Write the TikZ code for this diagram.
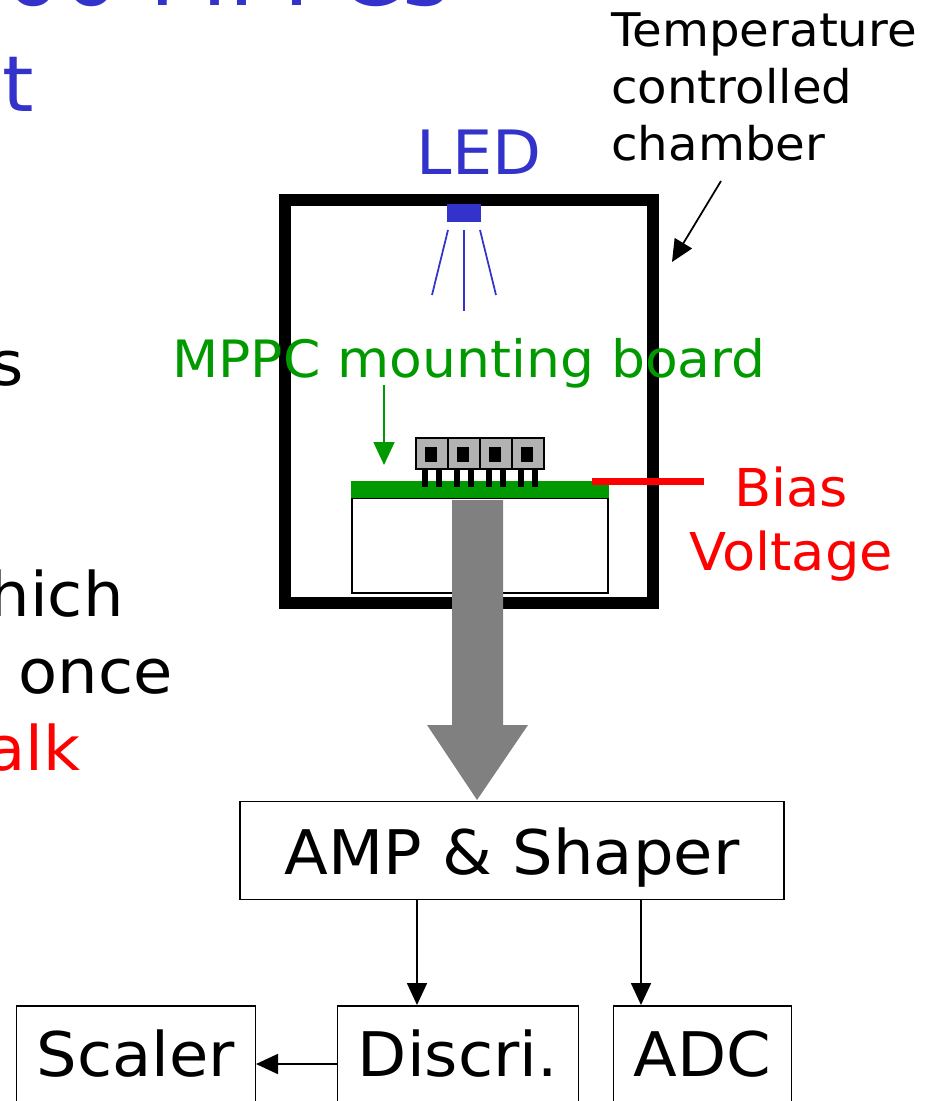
\documentclass[tikz,border=0pt]{standalone}
\usepackage{fontspec}
\setmainfont[FakeStretch=1.04]{DejaVu Sans}
\usetikzlibrary{arrows.meta}
\definecolor{ledblue}{RGB}{51,51,204}
\definecolor{boardgreen}{RGB}{0,153,0}
\definecolor{shaftgray}{RGB}{128,128,128}
\definecolor{chipgray}{RGB}{178,178,178}
\tikzset{
  boxnode/.style={draw=black,line width=0.03cm,inner sep=0pt},
  labeltext/.style={inner sep=0pt,font=\fontsize{35}{40}\selectfont},
  thinarrow/.style={line width=0.035cm,-{Triangle[length=0.44cm,width=0.4cm]}},
  rayline/.style={ledblue,line width=0.035cm}
}
\begin{document}
\begin{tikzpicture}[x=0.02cm,y=-0.02cm]
  \useasboundingbox (0,0) rectangle (943,1101);
  \clip (0,0) rectangle (943,1101);

  % Cropped slide text
  \node [labeltext,anchor=base west,text=ledblue,font=\fontsize{50}{56}\selectfont] (title) at (4,6) {00 MPPCs};
  \node [labeltext,anchor=base west,text=ledblue,font=\fontsize{44}{56}\selectfont] (titleb) at (2,112) {t};
  \node [labeltext,anchor=base east] (bodya) at (24,385) {s};
  \node [labeltext,anchor=base east] (bodyb) at (124,616) {hich};
  \node [labeltext,anchor=base west] (bodyc) at (18,693) {once};
  \node [labeltext,anchor=base east,text=red] (bodyd) at (81,770) {alk};

  % Chamber
  \draw [line width=0.24cm] (285,200) rectangle (652.5,602.5);
  \node [labeltext,anchor=base west,align=left,font=\fontsize{26.4}{32.7}\selectfont] (chamber) at (611,161) {Temperature\\controlled\\chamber};
  \coordinate (chambertail) at (721,181);
  \coordinate (chambertip) at (672,262);
  \draw [thinarrow] (chambertail) -- (chambertip);

  % LED with rays
  \node [labeltext,anchor=base,text=ledblue,font=\fontsize{34.8}{40}\selectfont] (led) at (479,175) {LED};
  \node [fill=ledblue,minimum width=34*0.02cm,minimum height=18*0.02cm,inner sep=0pt] (ledchip) at (464,213) {};
  \draw [rayline] (448,230) -- (432,295);
  \draw [rayline] (464,230) -- (464,311);
  \draw [rayline] (480,230) -- (496,295);

  % Mounting board
  \draw [line width=0.03cm] (352,498) rectangle (608,593);
  \fill [boardgreen] (351,481) rectangle (609,498);
  \foreach \chipx in {416,448,480,512}{
    \draw [line width=0.03cm,fill=chipgray] (\chipx,438) rectangle ++(32,31);
    \fill [black] (\chipx+9,447) rectangle ++(12,15);
    \fill [black] (\chipx+6,469) rectangle ++(6,18);
    \fill [black] (\chipx+20,469) rectangle ++(6,18);
  }
  \node [labeltext,anchor=base,text=boardgreen,font=\fontsize{29.3}{34}\selectfont] (board) at (469,377) {MPPC mounting board};
  \coordinate (boardtail) at (384,385);
  \coordinate (boardtip) at (384,465);
  \draw [boardgreen,line width=0.035cm,-{Triangle[length=0.46cm,width=0.42cm]}] (boardtail) -- (boardtip);

  % Bias line
  \draw [red,line width=0.14cm] (592,481) -- (704,481);
  \node [labeltext,anchor=base,text=red,align=center,font=\fontsize{29.7}{36.4}\selectfont] (bias) at (791,570) {Bias\\Voltage};

  % Thick signal arrow
  \fill [shaftgray] (452,500) -- (503,500) -- (503,725) -- (528,725) -- (477,800) -- (427,725) -- (452,725) -- cycle;

  % Readout boxes
  \node [boxnode,labeltext,minimum width=544*0.02cm,minimum height=98*0.02cm,text height=30pt,text depth=2.6pt] (amp) at (512,850.5) {AMP \& Shaper};
  \node [boxnode,labeltext,minimum width=239*0.02cm,minimum height=98*0.02cm,text height=27pt,text depth=2pt,anchor=north west] (scaler) at (15.5,1005) {Scaler};
  \node [boxnode,labeltext,minimum width=241*0.02cm,minimum height=98*0.02cm,text height=27pt,text depth=2pt,anchor=north west] (discri) at (336.5,1005) {Discri.};
  \node [boxnode,labeltext,minimum width=178*0.02cm,minimum height=98*0.02cm,text height=27pt,text depth=2pt,anchor=north west] (adc) at (612.5,1005) {ADC};

  \draw [thinarrow] (amp.south -| 417,0) -- (discri.north -| 417,0);
  \draw [thinarrow] (amp.south -| 641,0) -- (adc.north -| 641,0);
  \draw [thinarrow] (discri.west |- 0,1064) -- (scaler.east |- 0,1064);
\end{tikzpicture}
\end{document}
